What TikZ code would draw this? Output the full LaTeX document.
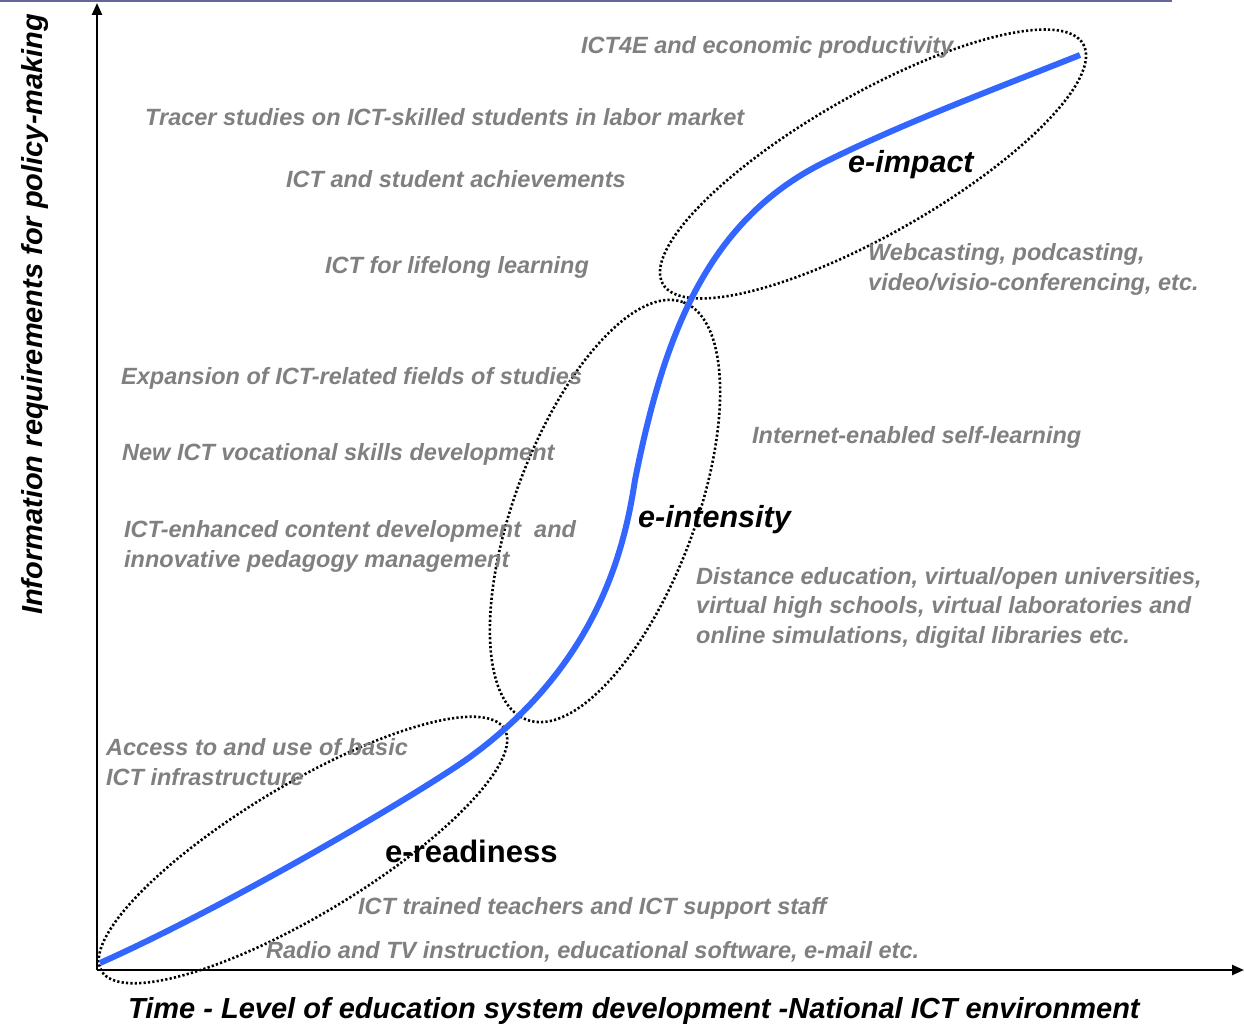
\documentclass[tikz,border=0pt]{standalone}
\usepackage{fontspec}
\setmainfont{Liberation Sans}
\usetikzlibrary{arrows.meta}
\definecolor{curveblue}{RGB}{51,102,255}
\definecolor{notegray}{RGB}{128,128,128}
\definecolor{rulepurple}{RGB}{102,102,153}

\begin{document}
\begin{tikzpicture}[x=1pt, y=-1pt,
    note/.style={anchor=base west, inner sep=0pt, text=notegray, align=left,
      font=\bfseries\itshape\fontsize{23.5}{29.5}\selectfont},
    phase/.style={anchor=base west, inner sep=0pt, font=\bfseries\fontsize{31}{36}\selectfont},
    slanted/.style={font=\bfseries\itshape\fontsize{30.5}{36}\selectfont},
    axisname/.style={anchor=base west, inner sep=0pt, font=\bfseries\itshape\fontsize{29}{34}\selectfont},
    ring/.style={draw, line width=2.6pt, dash pattern=on 2.2pt off 2.2pt}]

  \useasboundingbox (0,0) rectangle (1244,1024);
  \draw[rulepurple, line width=2.5pt] (0,1) -- (1172,1);

  % axes
  \coordinate (origin) at (97,970);
  \coordinate (ytop) at (97,3);
  \coordinate (xend) at (1244,970);
  \draw[line width=2.4pt, -{Triangle[length=12pt,width=10pt]}] (origin) -- (ytop);
  \draw[line width=2.4pt, -{Triangle[length=12pt,width=10pt]}] (origin) -- (xend);
  \node[axisname] (xname) at (128,1018) {Time - Level of education system development -National ICT environment};
  \node[axisname, rotate=90] (yname) at (42,615) {Information requirements for policy-making};

  % phases
  \draw[ring, shift={(303,850)}, rotate=31] (0,0) ellipse [x radius=235, y radius=65];
  \draw[ring, shift={(605,511)}, rotate=69.4] (0,0) ellipse [x radius=223, y radius=90];
  \draw[ring, shift={(873,164)}, rotate=29.7] (0,0) ellipse [x radius=242, y radius=70];

  \draw[curveblue, line width=6pt] (100,963)
    .. controls (230,905) and (420,793) .. (470,757)
    .. controls (600,662) and (625,545) .. (635,480)
    .. controls (663,340) and (705,222) .. (823,163)
    .. controls (903,123) and (1000,87) .. (1080,55);

  \node[phase] (ready) at (385,862) {e-readiness};
  \node[phase, slanted] (intense) at (638,527) {e-intensity};
  \node[phase, slanted] (impact) at (848,173) {e-impact};

  % notes
  \node[note] (econ) at (581,54) {ICT4E and economic productivity};
  \node[note] (tracer) at (145,126) {Tracer studies on ICT-skilled students in labor market};
  \node[note] (achieve) at (286,188) {ICT and student achievements};
  \node[note] (lifelong) at (325,273) {ICT for lifelong learning};
  \node[note] (webcast) at (868,290) {Webcasting, podcasting,\\video/visio-conferencing, etc.};
  \node[note] (fields) at (121,384) {Expansion of ICT-related fields of studies};
  \node[note] (skills) at (122,460) {New ICT vocational skills development};
  \node[note] (content) at (124,567) {ICT-enhanced content development\ \ and\\innovative pedagogy management};
  \node[note] (selflearn) at (752,443) {Internet-enabled self-learning};
  \node[note] (distance) at (696,643) {Distance education, virtual/open universities,\\virtual high schools, virtual laboratories and\\online simulations, digital libraries etc.};
  \node[note] (access) at (106,785) {Access to and use of basic\\ICT infrastructure};
  \node[note] (staff) at (358,914) {ICT trained teachers and ICT support staff};
  \node[note] (radio) at (266,958) {Radio and TV instruction, educational software, e-mail etc.};
\end{tikzpicture}
\end{document}
